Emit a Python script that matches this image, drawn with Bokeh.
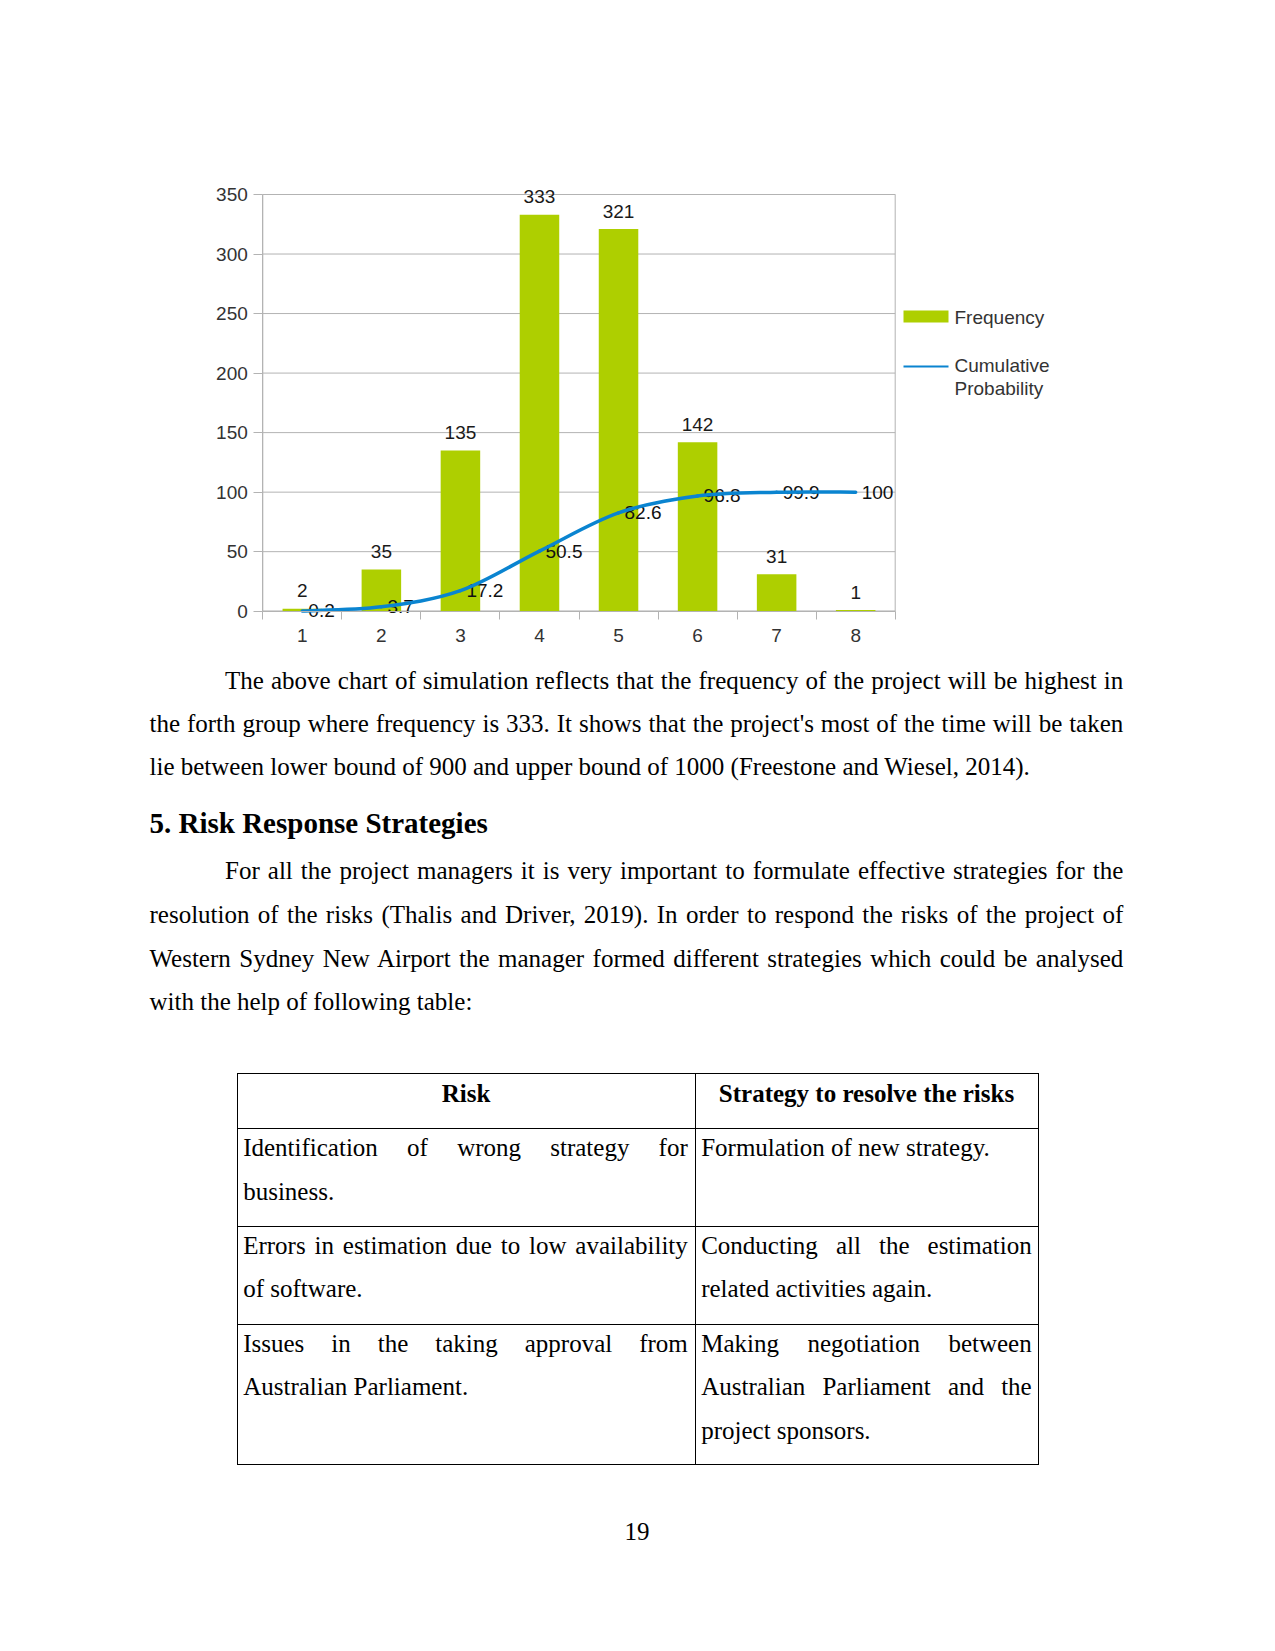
from bokeh.plotting import figure
from bokeh.models import Range1d, FixedTicker, Label, LabelSet, BoxAnnotation, Div, ColumnDataSource
from bokeh.layouts import column
from bokeh.embed import file_html
from bokeh.resources import INLINE
from bokeh.core.properties import value

# ---------------- data ----------------
groups = [1, 2, 3, 4, 5, 6, 7, 8]
frequency = [2, 35, 135, 333, 321, 142, 31, 1]
cumulative = [0.2, 3.7, 17.2, 50.5, 82.6, 96.8, 99.9, 100]
y_ticks = [0, 50, 100, 150, 200, 250, 300, 350]
series_names = ["Frequency", "Cumulative", "Probability"]

para1 = [
    "The above chart of simulation reflects that the frequency of the project will be highest in",
    "the forth group where frequency is 333. It shows that the project's most of the time will be taken",
    "lie between lower bound of 900 and upper bound of 1000 (Freestone and Wiesel, 2014).",
]
heading = "5. Risk Response Strategies"
para2 = [
    "For all the project managers it is very important to formulate effective strategies for the",
    "resolution of the risks (Thalis and Driver, 2019). In order to respond the risks of the project of",
    "Western Sydney New Airport the manager formed different strategies which could be analysed",
    "with the help of following table:",
]
table_header = ["Risk", "Strategy to resolve the risks"]
table_rows = [
    (["Identification of wrong strategy for", "business."], ["Formulation of new strategy."]),
    (["Errors in estimation due to low availability", "of software."],
     ["Conducting all the estimation", "related activities again."]),
    (["Issues in the taking approval from", "Australian Parliament."],
     ["Making negotiation between", "Australian Parliament and the", "project sponsors."]),
]
page_number = "19"

BAR = "#aecf00"
LINE = "#0a84d0"
GRID = "#b3b3b3"
SANS = "Liberation Sans"
TXT = "#333333"

# ---------------- geometry (page pixels) ----------------
FIG_W, FIG_H = 1259, 655
PX_L, PX_R, PY_T, PY_B = 262.3, 894.7, 194.0, 610.7   # plotting area of the chart
FL, FR, FT, FB = 150, 1060, 150, FIG_H                # bokeh frame (wider, so labels/legend are not clipped)
X_LO, X_HI = groups[0] - 0.5, groups[-1] + 0.5
Y_LO, Y_HI = y_ticks[0], y_ticks[-1]
sx = (PX_R - PX_L) / (X_HI - X_LO)
sy = (PY_B - PY_T) / (Y_HI - Y_LO)
x_range = Range1d(X_LO - (PX_L - FL) / sx, X_HI + (FR - PX_R) / sx)
y_range = Range1d(Y_LO - (FB - PY_B) / sy, Y_HI + (PY_T - FT) / sy)

# ---------------- chart ----------------
p = figure(width=FIG_W, height=FIG_H, x_range=x_range, y_range=y_range,
           output_backend="svg", toolbar_location=None,
           min_border_left=FL, min_border_right=FIG_W - FR, min_border_top=FT,
           min_border_bottom=FIG_H - FB)
p.background_fill_color = "white"
p.border_fill_color = "white"
p.outline_line_color = None
p.xgrid.visible = False
p.ygrid.visible = False

# horizontal grid lines and plot-area border
p.segment(x0=[X_LO] * len(y_ticks), x1=[X_HI] * len(y_ticks), y0=y_ticks, y1=y_ticks,
          line_color=GRID, line_width=1)
p.quad(left=[X_LO], right=[X_HI], bottom=[Y_LO], top=[Y_HI], fill_color=None,
       line_color=GRID, line_width=1)

p.vbar(x=groups, top=frequency, width=0.5, fill_color=BAR, line_color=None)

src = ColumnDataSource(dict(x=groups, f=frequency, c=cumulative,
                            ft=[str(v) for v in frequency],
                            ct=[f"{v:g}" for v in cumulative]))

# labels of the cumulative line (under the line)
p.text(x="x", y="c", text="ct", source=src, x_offset=6, y_offset=0,
       text_align="left", text_baseline="middle", text_font=value(SANS),
       text_font_size="19px", text_color="#111111")

# smooth curve (Catmull-Rom -> cubic Bezier) through the cumulative points
n = len(groups)
def _pt(i):
    i = max(0, min(n - 1, i))
    return groups[i], cumulative[i]
bx0, by0, bx1, by1, bcx0, bcy0, bcx1, bcy1 = [], [], [], [], [], [], [], []
for i in range(n - 1):
    xa, ya = _pt(i - 1)
    xb, yb = _pt(i)
    xc, yc = _pt(i + 1)
    xd, yd = _pt(i + 2)
    bx0.append(xb); by0.append(yb); bx1.append(xc); by1.append(yc)
    bcx0.append(xb + (xc - xa) / 6); bcy0.append(yb + (yc - ya) / 6)
    bcx1.append(xc - (xd - xb) / 6); bcy1.append(yc - (yd - yb) / 6)
p.bezier(x0=bx0, y0=by0, x1=bx1, y1=by1, cx0=bcx0, cy0=bcy0, cx1=bcx1, cy1=bcy1,
         line_color=LINE, line_width=3.5, line_cap="round")

# bar value labels
p.text(x="x", y="f", text="ft", source=src, y_offset=-18,
       text_align="center", text_baseline="middle", text_font=value(SANS),
       text_font_size="19px", text_color="#1a1a1a")

# axes, fixed on the chart's plotting area
p.yaxis.fixed_location = X_LO
p.yaxis.bounds = (Y_LO, Y_HI)
p.yaxis.ticker = FixedTicker(ticks=y_ticks)
p.yaxis.axis_line_color = GRID
p.yaxis.major_tick_line_color = GRID
p.yaxis.major_tick_out = 9
p.yaxis.major_tick_in = 0
p.yaxis.minor_tick_line_color = None
p.yaxis.major_label_standoff = 6
p.yaxis.major_label_text_font = SANS
p.yaxis.major_label_text_font_size = "19px"
p.yaxis.major_label_text_color = TXT

p.xaxis.fixed_location = Y_LO
p.xaxis.bounds = (X_LO, X_HI)
p.xaxis.ticker = FixedTicker(ticks=groups, minor_ticks=[g - 0.5 for g in groups] + [X_HI])
p.xaxis.axis_line_color = GRID
p.xaxis.major_tick_out = 0
p.xaxis.major_tick_in = 0
p.xaxis.minor_tick_line_color = GRID
p.xaxis.minor_tick_out = 8
p.xaxis.minor_tick_in = 0
p.xaxis.major_label_standoff = 10
p.xaxis.major_label_text_font = SANS
p.xaxis.major_label_text_font_size = "19px"
p.xaxis.major_label_text_color = TXT

# legend, to the right of the plotting area
def _dx(px):
    return X_LO + (px - PX_L) / sx
def _dy(py):
    return Y_LO + (PY_B - py) / sy
p.add_layout(BoxAnnotation(left=_dx(903), right=_dx(948), bottom=_dy(322), top=_dy(310),
                           fill_color=BAR, fill_alpha=1, line_color=None))
p.add_layout(BoxAnnotation(left=_dx(903), right=_dx(948), bottom=_dy(367), top=_dy(365),
                           fill_color=LINE, fill_alpha=1, line_color=None))
for txt, py in zip(series_names, [317, 365, 388]):
    p.add_layout(Label(x=_dx(954), y=_dy(py), text=txt,
                       text_font=SANS, text_font_size="19px", text_color=TXT,
                       text_baseline="middle", text_align="left"))

# ---------------- text part of the page ----------------
SERIF = "'Liberation Serif', 'Times New Roman', serif"
OFF = 22.3  # from line-box top to visual text centre

def line_html(text, left, center, width, justify=False, bold=False, size=25, align="left"):
    top = round(center - OFF - FIG_H, 1)
    st = (f"position:absolute;left:{left}px;top:{top}px;width:{width}px;height:43px;"
          f"line-height:43px;font-family:{SERIF};font-size:{size}px;white-space:nowrap;color:#000;")
    if bold:
        st += "font-weight:bold;"
    if justify:
        st += "text-align:justify;text-align-last:justify;"
    else:
        st += f"text-align:{align};"
    return f'<div style="{st}">{text}</div>'

def hline(x0, x1, y):
    return (f'<div style="position:absolute;left:{x0}px;top:{y - FIG_H}px;width:{x1 - x0 + 1}px;'
            f'height:1px;background:#000;"></div>')

def vline(x, y0, y1):
    return (f'<div style="position:absolute;left:{x}px;top:{y0 - FIG_H}px;width:1px;'
            f'height:{y1 - y0 + 1}px;background:#000;"></div>')

parts = []
L, R = 149.5, 1123.3
IND = 75.5
c1 = [681, 724.3, 767.5]
for i, (t, cy) in enumerate(zip(para1, c1)):
    last = i == len(para1) - 1
    left = L + IND if i == 0 else L
    parts.append(line_html(t, left, cy, R - left, justify=not last))
parts.append(line_html(heading, L, 824.3, 700, bold=True, size=29))
c2 = [871.7, 914.9, 959, 1002.3]
for i, (t, cy) in enumerate(zip(para2, c2)):
    last = i == len(para2) - 1
    left = L + IND if i == 0 else L
    parts.append(line_html(t, left, cy, R - left, justify=not last))

# table
tx0, tmid, tx1 = 237, 695, 1038
row_y = [1073, 1127.5, 1225.5, 1323.5, 1463.5]
for y in row_y:
    parts.append(hline(tx0, tx1, y))
for x in (tx0, tmid, tx1):
    parts.append(vline(x, row_y[0], row_y[-1]))
c1l, c1r = 243.2, 687.8
c2l, c2r = 701.2, 1031.7
parts.append(line_html(table_header[0], tx0, 1094, tmid - tx0, bold=True, align="center"))
parts.append(line_html(table_header[1], tmid, 1094, tx1 - tmid, bold=True, align="center"))
first_centers = [1148.6, 1246.5, 1344.4]
for (col1, col2), fc in zip(table_rows, first_centers):
    for j, t in enumerate(col1):
        parts.append(line_html(t, c1l, fc + 43.2 * j, c1r - c1l, justify=(j < len(col1) - 1)))
    for j, t in enumerate(col2):
        parts.append(line_html(t, c2l, fc + 43.2 * j, c2r - c2l, justify=(j < len(col2) - 1)))

parts.append(line_html(page_number, 587, 1532, 100, align="center"))

html = ('<div style="position:relative;width:1259px;height:900px;background:#fff;">'
        + "".join(parts) + "</div>")
div = Div(text=html, width=FIG_W, height=900, margin=0)

layout = column(p, div, spacing=0)
open("out.html", "w").write(file_html(layout, INLINE))
